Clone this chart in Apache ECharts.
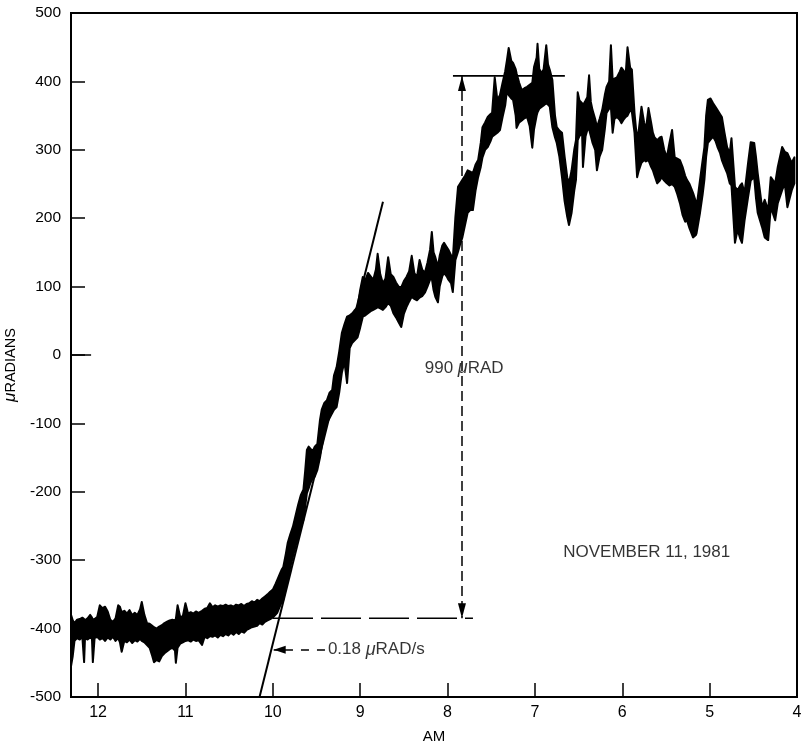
<!DOCTYPE html>
<html>
<head>
<meta charset="utf-8">
<script src="https://cdn.jsdelivr.net/npm/echarts@6/dist/echarts.min.js"></script>
<style>
html,body{margin:0;padding:0;background:#ffffff;}
#chart{width:802px;height:745px;}
</style>
</head>
<body>
<div id="chart"></div>
<script>
// ---------------- data ----------------
// sample times (hours AM) and the lower / upper edge of the recorded trace (microradians)
const hours = [
  12.31,12.29,12.27,12.24,12.21,12.18,12.16,12.15,12.12,12.09,
  12.07,12.06,12.04,12.01,11.98,11.95,11.92,11.89,11.86,11.83,
  11.80,11.77,11.75,11.73,11.70,11.67,11.64,11.61,11.58,11.55,
  11.52,11.50,11.47,11.44,11.41,11.38,11.36,11.33,11.30,11.27,
  11.24,11.21,11.18,11.15,11.12,11.11,11.09,11.06,11.03,11.00,
  10.97,10.94,10.91,10.88,10.85,10.81,10.78,10.75,10.72,10.69,
  10.66,10.63,10.60,10.57,10.54,10.51,10.48,10.45,10.42,10.39,
  10.36,10.33,10.30,10.27,10.24,10.21,10.18,10.15,10.12,10.09,
  10.06,10.03,10.00,9.97,9.95,9.92,9.90,9.88,9.85,9.83,
  9.80,9.77,9.74,9.71,9.68,9.65,9.63,9.61,9.59,9.57,
  9.54,9.52,9.49,9.46,9.44,9.41,9.38,9.35,9.32,9.30,
  9.27,9.24,9.21,9.18,9.15,9.12,9.09,9.06,9.03,9.00,
  8.97,8.94,8.91,8.88,8.85,8.82,8.80,8.77,8.74,8.71,
  8.68,8.65,8.62,8.59,8.56,8.53,8.50,8.47,8.44,8.41,
  8.38,8.35,8.32,8.29,8.26,8.23,8.20,8.18,8.16,8.14,
  8.11,8.09,8.06,8.04,8.01,7.99,7.96,7.94,7.91,7.88,
  7.86,7.83,7.80,7.77,7.74,7.71,7.68,7.65,7.62,7.60,
  7.57,7.54,7.51,7.49,7.46,7.43,7.40,7.37,7.34,7.32,
  7.30,7.27,7.25,7.22,7.21,7.18,7.15,7.12,7.09,7.06,
  7.03,7.01,6.98,6.97,6.95,6.92,6.90,6.87,6.85,6.83,
  6.80,6.77,6.75,6.72,6.69,6.66,6.63,6.61,6.58,6.55,
  6.53,6.51,6.49,6.46,6.45,6.42,6.40,6.38,6.36,6.34,
  6.31,6.29,6.26,6.23,6.20,6.18,6.15,6.13,6.11,6.09,
  6.06,6.03,6.01,5.98,5.96,5.94,5.91,5.89,5.86,5.83,
  5.81,5.78,5.75,5.73,5.70,5.67,5.65,5.63,5.60,5.57,
  5.55,5.52,5.49,5.46,5.43,5.40,5.37,5.34,5.31,5.28,
  5.26,5.23,5.19,5.16,5.15,5.11,5.08,5.06,5.04,5.02,
  4.99,4.96,4.93,4.91,4.88,4.86,4.83,4.80,4.77,4.75,
  4.71,4.68,4.65,4.63,4.60,4.56,4.53,4.49,4.47,4.45,
  4.40,4.37,4.33,4.30,4.25,4.22,4.17,4.14,4.11,4.06,4.03
];
const lower = [
  -455,-440,-418,-414,-416,-412,-449,-414,-416,-413,
  -415,-449,-414,-412,-416,-414,-418,-413,-416,-412,
  -418,-414,-420,-434,-418,-420,-416,-421,-417,-419,
  -415,-418,-420,-424,-428,-440,-449,-446,-448,-440,
  -436,-433,-430,-428,-432,-450,-428,-422,-420,-418,
  -417,-419,-416,-418,-417,-424,-412,-414,-411,-412,
  -410,-413,-409,-411,-408,-410,-406,-409,-405,-408,
  -404,-406,-402,-400,-398,-397,-396,-392,-394,-390,
  -388,-386,-384,-380,-377,-368,-362,-358,-340,-329,
  -310,-295,-280,-266,-252,-241,-222,-202,-195,-187,
  -180,-178,-168,-150,-134,-115,-99,-92,-85,-80,
  -76,-55,-26,-10,-41,10,18,22,26,40,
  56,58,61,64,66,68,70,68,66,70,
  76,72,61,55,48,41,60,70,78,85,
  82,80,84,86,91,100,110,112,95,85,
  77,100,115,120,115,110,105,92,139,151,
  160,172,190,208,212,212,240,260,275,289,
  300,304,312,319,322,325,329,348,365,387,
  380,375,373,350,332,340,343,346,348,335,
  303,330,350,355,360,363,365,368,366,363,
  333,318,310,290,260,225,202,190,208,240,
  256,314,320,325,275,320,329,330,320,310,
  300,270,290,300,330,354,360,362,325,345,
  348,344,339,345,348,350,358,355,325,260,
  270,281,285,283,285,275,270,262,251,255,
  260,255,251,248,250,246,235,222,205,195,
  197,185,172,175,178,208,235,256,290,310,
  315,319,312,304,295,285,275,266,251,248,
  164,183,170,164,197,231,255,260,230,208,
  187,172,168,216,197,222,241,251,216,241,251
];
const upper = [
  -380,-388,-392,-387,-386,-384,-386,-388,-385,-380,
  -384,-387,-386,-383,-366,-370,-368,-375,-387,-390,
  -385,-366,-368,-376,-374,-378,-373,-380,-377,-380,
  -372,-361,-380,-392,-393,-396,-398,-400,-397,-395,
  -392,-390,-388,-387,-388,-386,-366,-383,-382,-363,
  -378,-376,-378,-375,-377,-374,-371,-370,-363,-369,
  -366,-368,-366,-367,-365,-367,-366,-368,-365,-366,
  -364,-367,-364,-363,-360,-362,-358,-360,-356,-353,
  -350,-346,-343,-335,-329,-320,-314,-310,-290,-275,
  -262,-251,-235,-219,-205,-197,-170,-139,-134,-137,
  -140,-134,-130,-95,-80,-70,-66,-55,-51,-30,
  -18,5,32,45,56,58,61,66,70,95,
  114,110,120,115,110,125,148,118,105,112,
  143,118,114,106,100,99,108,114,122,145,
  120,114,139,125,120,135,154,180,150,143,
  129,145,160,164,158,154,146,139,202,246,
  250,256,262,270,268,266,278,285,310,333,
  340,348,352,354,406,373,380,398,415,431,
  449,430,427,418,412,398,387,390,392,395,
  398,421,435,455,418,412,418,453,425,417,
  402,350,333,328,325,290,260,251,270,300,
  314,384,372,368,365,372,377,409,370,358,
  345,333,345,358,380,392,400,453,402,404,
  406,414,420,415,412,450,420,417,354,314,
  330,363,340,329,361,340,325,318,314,318,
  319,300,289,310,329,289,287,285,275,262,
  256,250,237,225,216,256,285,304,350,373,
  375,368,362,358,352,348,325,304,295,317,
  246,241,248,251,237,281,311,310,290,266,
  216,227,212,260,251,275,304,297,295,281,289
];

// axes
const xRange = [4, 12.31];          // hours, drawn reversed (12 on the left)
const yRange = [-500, 500];
const yStep = 100;
const xStep = 1;

// annotations (data coordinates)
const tangentHours = [10.152, 8.739];
const tangentValues = [-500, 224];
const baselineHours = [9.998, 7.709];
const baselineValue = -385;
const topLineHours = [7.938, 6.657];
const topLineValue = 408;
const spanHour = 7.835;
const rateArrowHours = [9.403, 9.99];
const rateArrowValue = -431;
const zeroTickHours = [12.31, 12.08];

const datePos = [5.72, -289];
const spanPos = [7.81, -19];
const ratePos = [9.375, -431];

const dateText = 'NOVEMBER 11, 1981';
const spanText = '990 μRAD';
const rateText = '0.18 μRAD/s';
const yTitle = 'μRADIANS';
const xTitle = 'AM';

// ---------------- chart ----------------
const FONT = "'Liberation Sans', Arial, Helvetica, sans-serif";
const mu = s => s.replace('μ', '{mu|μ}');
const richMu = (size) => ({ mu: { fontStyle: 'italic', fontSize: size, fontFamily: FONT, color: '#000' } });

const chart = echarts.init(document.getElementById('chart'), null, { renderer: 'canvas' });

const black = '#000';

chart.setOption({
  animation: false,
  backgroundColor: '#ffffff',
  grid: {
    left: 71, right: 5, top: 13, bottom: 48,
    show: true, borderColor: black, borderWidth: 2,
    containLabel: false, outerBoundsMode: 'none'
  },
  xAxis: {
    type: 'value',
    min: xRange[0], max: xRange[1], interval: xStep,
    inverse: true,
    axisLine: { show: true, onZero: false, lineStyle: { color: black, width: 2 } },
    axisTick: { show: true, inside: true, length: 14, lineStyle: { color: black, width: 1.5 } },
    axisLabel: {
      color: black, fontSize: 16, fontFamily: FONT, margin: 8,
      formatter: v => (Math.abs(v - Math.round(v)) < 1e-6 ? String(Math.round(v)) : '')
    },
    splitLine: { show: false },
    name: xTitle, nameLocation: 'middle', nameGap: 32,
    nameTextStyle: { color: black, fontSize: 15, fontFamily: FONT }
  },
  yAxis: {
    type: 'value',
    min: yRange[0], max: yRange[1], interval: yStep,
    axisLine: { show: true, onZero: false, lineStyle: { color: black, width: 2 } },
    axisTick: { show: true, inside: true, length: 14, lineStyle: { color: black, width: 1.5 } },
    axisLabel: { color: black, fontSize: 15.5, fontFamily: FONT, margin: 10 },
    splitLine: { show: false },
    name: mu(yTitle), nameLocation: 'middle', nameGap: 49, nameRotate: 90,
    nameTextStyle: { color: black, fontSize: 14.5, fontFamily: FONT, rich: richMu(17), padding: [0, 20, 0, 0] }
  },
  series: [
    {
      name: 'trace',
      type: 'custom',
      coordinateSystem: 'cartesian2d',
      silent: true,
      clip: true,
      data: hours.map((h, i) => [h, lower[i], upper[i]]),
      encode: { x: 0, y: [1, 2] },
      renderItem: function (params, api) {
        if (params.dataIndex !== 0) return null;
        const top = hours.map((h, i) => api.coord([h, upper[i]]));
        const bot = hours.map((h, i) => api.coord([h, lower[i]])).reverse();
        return {
          type: 'polygon',
          shape: { points: top.concat(bot) },
          style: { fill: black, stroke: black, lineWidth: 2, lineJoin: 'round' }
        };
      }
    },
    {
      name: 'tangent',
      type: 'line',
      silent: true,
      showSymbol: false,
      symbol: 'none',
      data: tangentHours.map((h, i) => [h, tangentValues[i]]),
      lineStyle: { color: black, width: 2 },
      markLine: {
        silent: true,
        animation: false,
        symbol: ['none', 'triangle'],
        symbolSize: [8, 12],
        symbolOffset: [[0, 0], [0, '50%']],
        label: { show: false },
        lineStyle: { color: black, width: 1.5, type: [8, 8] },
        data: [[{ coord: [rateArrowHours[0], rateArrowValue] }, { coord: [rateArrowHours[1], rateArrowValue] }]]
      }
    },
    {
      name: 'baseline',
      type: 'line',
      silent: true,
      showSymbol: false,
      symbol: 'none',
      data: baselineHours.map(h => [h, baselineValue]),
      lineStyle: { color: black, width: 1.5, type: [40, 8] },
      markLine: {
        silent: true,
        animation: false,
        symbol: ['triangle', 'triangle'],
        symbolSize: [8, 15],
        symbolOffset: [[0, '50%'], [0, '50%']],
        label: { show: false },
        lineStyle: { color: black, width: 1.5, type: [10, 5] },
        data: [[{ coord: [spanHour, topLineValue] }, { coord: [spanHour, baselineValue] }]]
      }
    },
    {
      name: 'top',
      type: 'line',
      silent: true,
      showSymbol: false,
      symbol: 'none',
      data: topLineHours.map(h => [h, topLineValue]),
      lineStyle: { color: black, width: 1.8 }
    },
    {
      name: 'zeroTick',
      type: 'line',
      silent: true,
      showSymbol: false,
      symbol: 'none',
      data: zeroTickHours.map(h => [h, 0]),
      lineStyle: { color: black, width: 1.5 }
    },
    {
      name: 'labels',
      type: 'scatter',
      silent: true,
      symbolSize: 1,
      itemStyle: { color: 'rgba(0,0,0,0)' },
      label: { show: true, color: black, fontSize: 17, fontFamily: FONT, rich: richMu(18) },
      data: [
        { value: datePos, label: { position: 'inside', formatter: dateText } },
        { value: spanPos, label: { position: 'inside', formatter: mu(spanText) } },
        { value: ratePos, label: { position: 'right', distance: 0, formatter: mu(rateText) } }
      ]
    }
  ]
});
</script>
</body>
</html>
